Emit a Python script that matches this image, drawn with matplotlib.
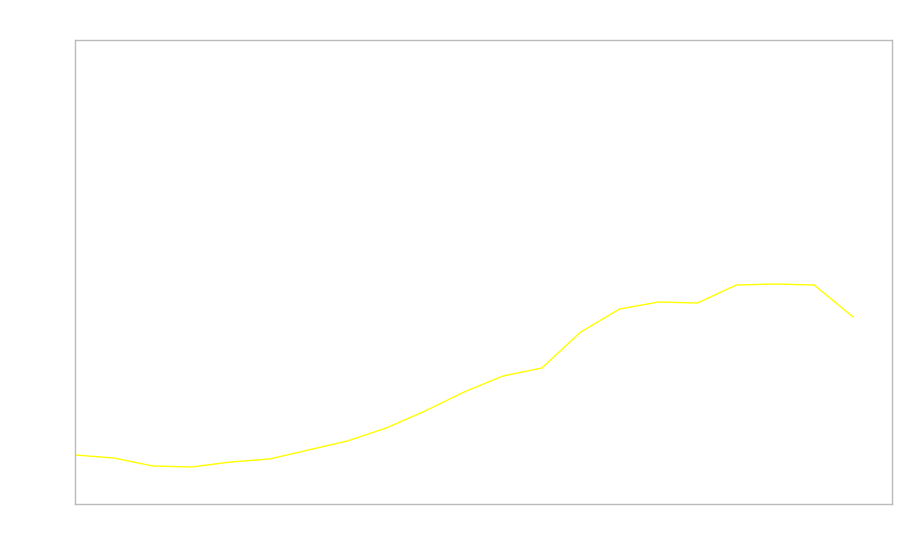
import matplotlib
matplotlib.use("Agg")
import matplotlib.pyplot as plt

x_index = list(range(21))
values = [49, 46, 38, 37, 42, 45, 54, 63, 76, 93, 112, 128, 136, 172, 195, 202, 201, 219, 220, 219, 187]

fig = plt.figure(figsize=(9, 5.6), dpi=100)
ax = fig.add_axes([75/900, 56/560, (892-75)/900, (504-40)/560])
ax.plot(x_index, values, color="#ffff00", linewidth=1.0)
ax.set_xlim(0, 21)
ax.set_ylim(0, 464)
ax.set_xticks([])
ax.set_yticks([])
for s in ax.spines.values():
    s.set_color("#bbbbbb")
    s.set_linewidth(1.0)
fig.savefig("out.png", dpi=100)
